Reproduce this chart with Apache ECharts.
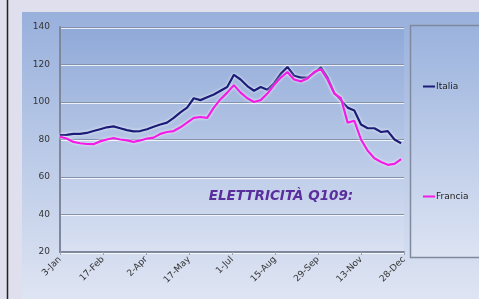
<!DOCTYPE html>
<html>
<head>
<meta charset="utf-8">
<script src="https://cdn.jsdelivr.net/npm/echarts@6/dist/echarts.min.js"></script>
<style>
html,body{margin:0;padding:0;background:#dfdfee;}
#c{width:479px;height:299px;}
</style>
</head>
<body>
<div id="c"></div>
<script>
// Day offsets from 3-Jan (weekly)
var days = [0,7,14,21,28,35,42,49,56,63,70,77,84,91,98,105,112,119,126,133,140,147,154,161,168,175,182,189,196,203,210,217,224,231,238,245,252,259,266,273,280,287,294,301,308,315,322,329,336,343,350,357];
var italia = [82.4,82.5,83,83,83.5,84.5,85.5,86.5,87,86,85,84.3,84.5,85.5,86.8,88,89,91.5,94.5,97,102,101,102.5,104,106,108,114.5,112,108.5,106,108,106.5,110,115,118.7,114,113,113,115.5,118.5,113,105,101,97,95.5,88,86,86,84,84.5,80,78];
var francia = [81.5,80.5,78.7,78,77.6,77.5,79,80,80.8,80,79.5,78.7,79.5,80.5,81,83,84,84.5,86.5,89,91.5,92,91.5,97,101.5,105,109,105,102,100,101,104.5,109,113,116,112,111,112.5,116,117.5,112,104.5,102,89,90,80,74,70,68,66.5,67,69.5];
var tickLabels = ['3-Jan','17-Feb','2-Apr','17-May','1-Jul','15-Aug','29-Sep','13-Nov','28-Dec'];
var seriesNames = ['Italia','Francia'];
var titleText = 'ELETTRICITÀ Q109:';

var chart = echarts.init(document.getElementById('c'), null, {renderer:'canvas'});
function pairs(arr){ return days.map(function(d,i){ return [d, arr[i]]; }); }
var panelGrad = new echarts.graphic.LinearGradient(0,0,0,1,[{offset:0,color:'#98b0dc'},{offset:1,color:'#dfe5f3'}]);
var plotGrad = new echarts.graphic.LinearGradient(0,0,0,1,[{offset:0,color:'#8fa9d8'},{offset:1,color:'#d9e1f2'}]);
var legGrad = new echarts.graphic.LinearGradient(0,0,0,1,[{offset:0,color:'#9ab2dd'},{offset:1,color:'#dde4f3'}]);
chart.setOption({
  backgroundColor:'#dfdfee',
  animation:false,
  textStyle:{fontFamily:'DejaVu Sans'},
  graphic:[
    {type:'rect', z:-10, shape:{x:22,y:12,width:460,height:290}, style:{fill:panelGrad}},
    {type:'line', z:-5, shape:{x1:7.5,y1:0,x2:7.5,y2:299}, style:{stroke:'#222',lineWidth:1.5}},
    {type:'rect', z:-5, shape:{x:410.5,y:25.5,width:75,height:232}, style:{fill:legGrad, stroke:'#7f8a9e', lineWidth:1.5}},
    {type:'text', z:10, x:281, y:196, style:{text:titleText, textAlign:'center', textVerticalAlign:'middle', fill:'#5a2f9c', font:'italic bold 13.5px "DejaVu Sans"'}}
  ],
  grid:{left:60, top:27, right:75, bottom:47, show:true, backgroundColor:plotGrad, borderWidth:0},
  legend:{
    orient:'vertical', left:418, top:77, itemGap:101,
    itemWidth:12, itemHeight:2, icon:'rect',
    textStyle:{fontSize:9, color:'#222', padding:[0,0,0,-4]},
    data:seriesNames
  },
  xAxis:{
    type:'value', min:0, max:360, interval:45,
    axisLine:{show:true, lineStyle:{color:'#7e889a', width:2}},
    axisTick:{show:true, length:3, lineStyle:{color:'#9aa4b6'}},
    splitLine:{show:false},
    axisLabel:{rotate:45, fontSize:9, color:'#333', margin:6,
      formatter:function(v){ return tickLabels[Math.round(v/45)] || ''; }}
  },
  yAxis:{
    type:'value', min:20, max:140, interval:20,
    axisLine:{show:true, lineStyle:{color:'#7e889a', width:2}},
    axisTick:{show:false},
    splitLine:{show:true, lineStyle:{color:'#8391aa', width:1, shadowColor:'rgba(255,255,255,0.8)', shadowOffsetY:1}},
    axisLabel:{fontSize:9, color:'#333', margin:10}
  },
  series:[
    {name:seriesNames[0], type:'line', data:pairs(italia), showSymbol:false, symbol:'none',
     color:'#1b1c78', lineStyle:{width:2.2, color:'#1b1c78', shadowColor:'rgba(255,255,255,0.9)', shadowBlur:3}},
    {name:seriesNames[1], type:'line', data:pairs(francia), showSymbol:false, symbol:'none',
     color:'#f21ce6', lineStyle:{width:2.2, color:'#f21ce6', shadowColor:'rgba(255,255,255,0.9)', shadowBlur:3}}
  ]
});
</script>
</body>
</html>
